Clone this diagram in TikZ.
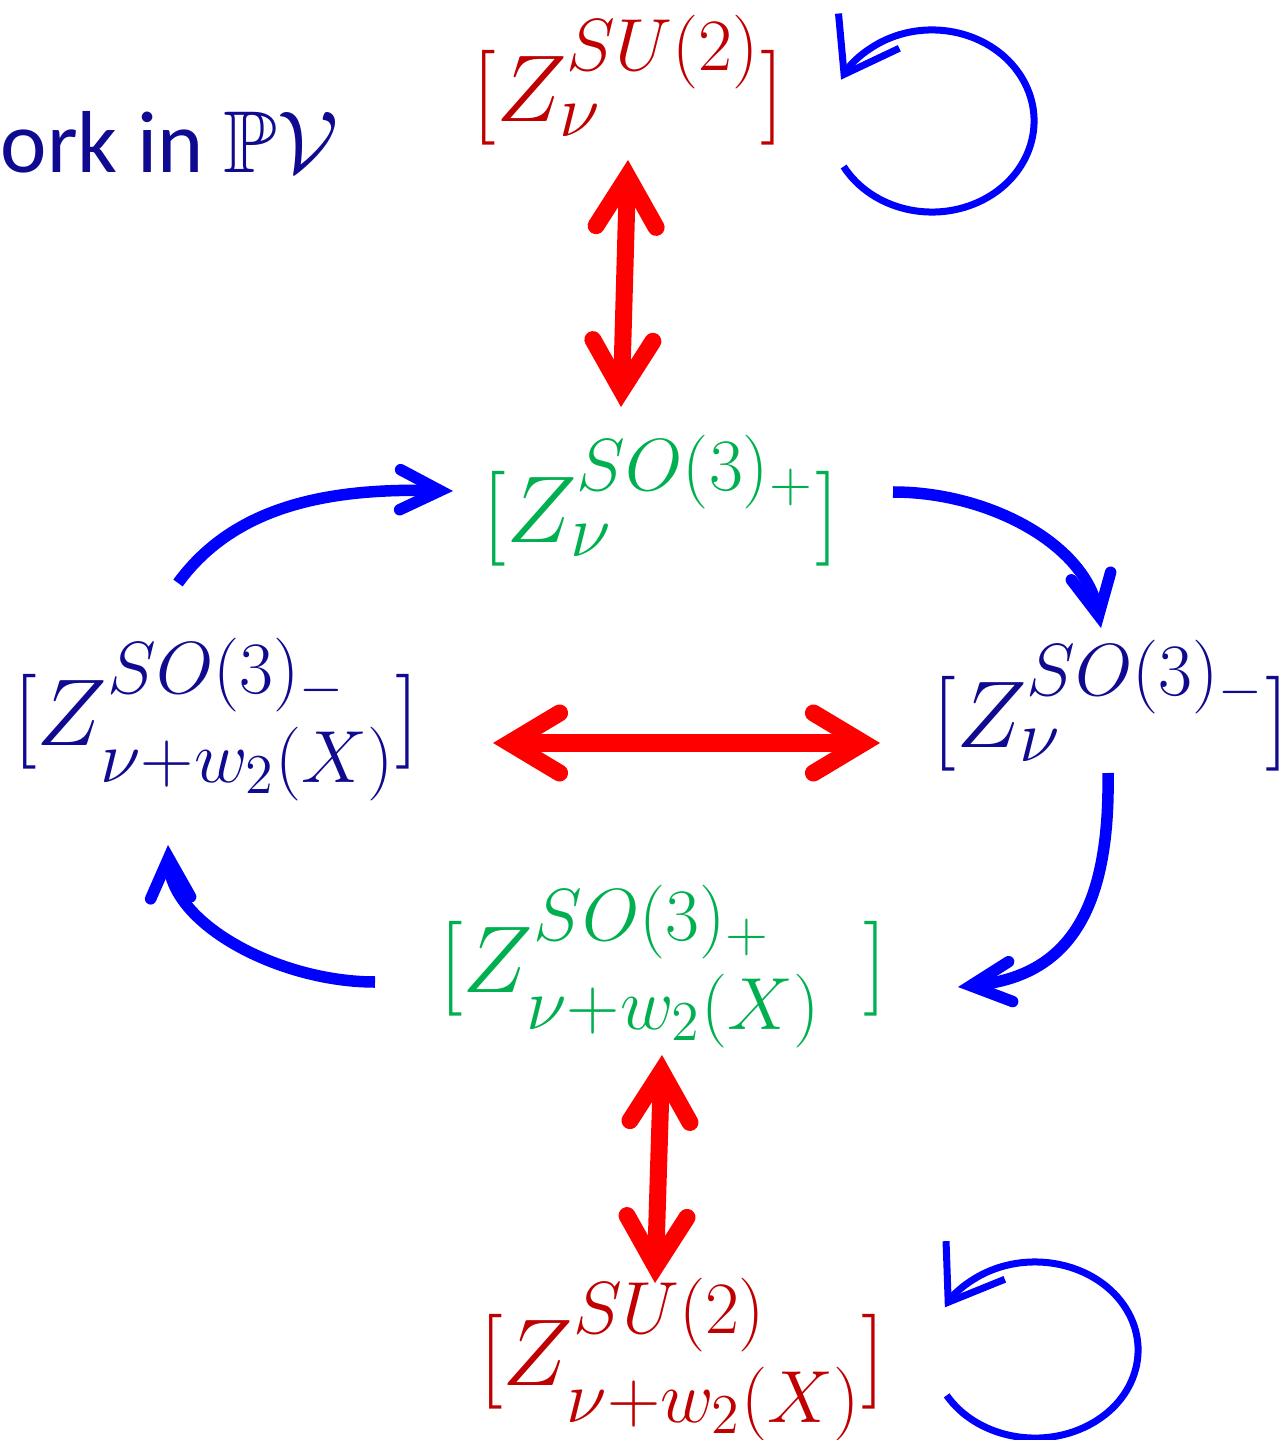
\RequirePackage{fix-cm}
\documentclass[tikz,border=0pt]{standalone}
\usepackage{amssymb}
\usepackage{fontspec}
\newfontfamily\calibri{Carlito}
\DeclareMathSizes{27}{27}{21}{16}
\DeclareMathSizes{25}{25}{25}{20}
\usetikzlibrary{arrows.meta,calc}
\definecolor{navy}{RGB}{16,10,145}
\definecolor{dred}{RGB}{192,0,0}
\definecolor{dgreen}{RGB}{0,176,80}
\definecolor{ared}{RGB}{255,0,0}
\definecolor{ablue}{RGB}{0,0,255}
\begin{document}
\begin{tikzpicture}[x=0.01cm,y=-0.01cm,
  lbl/.style={inner sep=0pt, anchor=base, font=\fontsize{27}{31}\selectfont},
  redarr/.style={draw=ared, line width=0.17cm,
    {Straight Barb[length=0.5cm,width=0.6cm,line cap=round,line join=miter]}-{Straight Barb[length=0.5cm,width=0.6cm,line cap=round,line join=miter]}},
  bluearr/.style={draw=ablue, line width=0.115cm,
    -{Straight Barb[length=0.4cm,width=0.4cm,line cap=round,line join=miter]}},
  looparr/.style={draw=ablue, line width=0.07cm, -{Straight Barb[length=0.5cm,width=0.7cm]}},
]
\useasboundingbox (0,0) rectangle (1285,1440);

\node[inner sep=0pt, anchor=base west, text=navy, font=\calibri\fontsize{25}{29}\selectfont] (work) at (0,173) {ork in $\mathbb{P}\mathcal{V}$};

\node[lbl, text=dred] (su2top) at (628,122) {$[Z_\nu^{SU(2)}]$};
\node[lbl, text=dgreen] (so3ptop) at (661,542) {$[Z_\nu^{SO(3)_+}]$};
\node[lbl, text=navy] (so3mleft) at (216,745) {$[Z^{SO(3)_-}_{\nu+w_2(X)}]$};
\node[lbl, text=navy] (so3mright) at (1111,747) {$[Z_\nu^{SO(3)_-}]$};
\node[lbl, text=dgreen] (so3pbot) at (663,992) {$[Z^{SO(3)_+}_{\nu+w_2(X)}\;\,]$};
\node[lbl, text=dred] (su2bot) at (682,1385) {$[Z^{SU(2)}_{\nu+w_2(X)}]$};

% red double arrows
\coordinate (r1a) at (628,160); \coordinate (r1b) at (621,407);
\coordinate (r2a) at (493,743); \coordinate (r2b) at (880,743);
\coordinate (r3a) at (662,1055); \coordinate (r3b) at (655,1283);
\draw[redarr] (r1a) -- (r1b);
\draw[redarr] (r2a) -- (r2b);
\draw[redarr] (r3a) -- (r3b);

% blue cycle arrows
\coordinate (b1s) at (178,583); \coordinate (b1e) at (453,491);
\coordinate (b2s) at (893,492); \coordinate (b2e) at (1101,628);
\coordinate (b3s) at (1108,773); \coordinate (b3e) at (958,987);
\coordinate (b4s) at (375,982); \coordinate (b4e) at (168,845);
\draw[bluearr] (b1s) .. controls (235,505) and (330,488) .. (b1e);
\draw[bluearr] (b2s) .. controls (990,492) and (1085,545) .. (b2e);
\draw[bluearr] (b3s) .. controls (1110,900) and (1075,975) .. (b3e);
\draw[bluearr] (b4s) .. controls (280,982) and (172,925) .. (b4e);

% self loops
\coordinate (lc1) at (932,121);
\coordinate (lc2) at (1035,1350);
\draw[looparr] ($(lc1)+(210:1.02cm and 0.91cm)$) arc[start angle=210, end angle=513, x radius=1.02cm, y radius=0.91cm];
\draw[looparr] ($(lc2)+(211:1.03cm and 0.88cm)$) arc[start angle=211, end angle=511, x radius=1.03cm, y radius=0.88cm];
\end{tikzpicture}
\end{document}
